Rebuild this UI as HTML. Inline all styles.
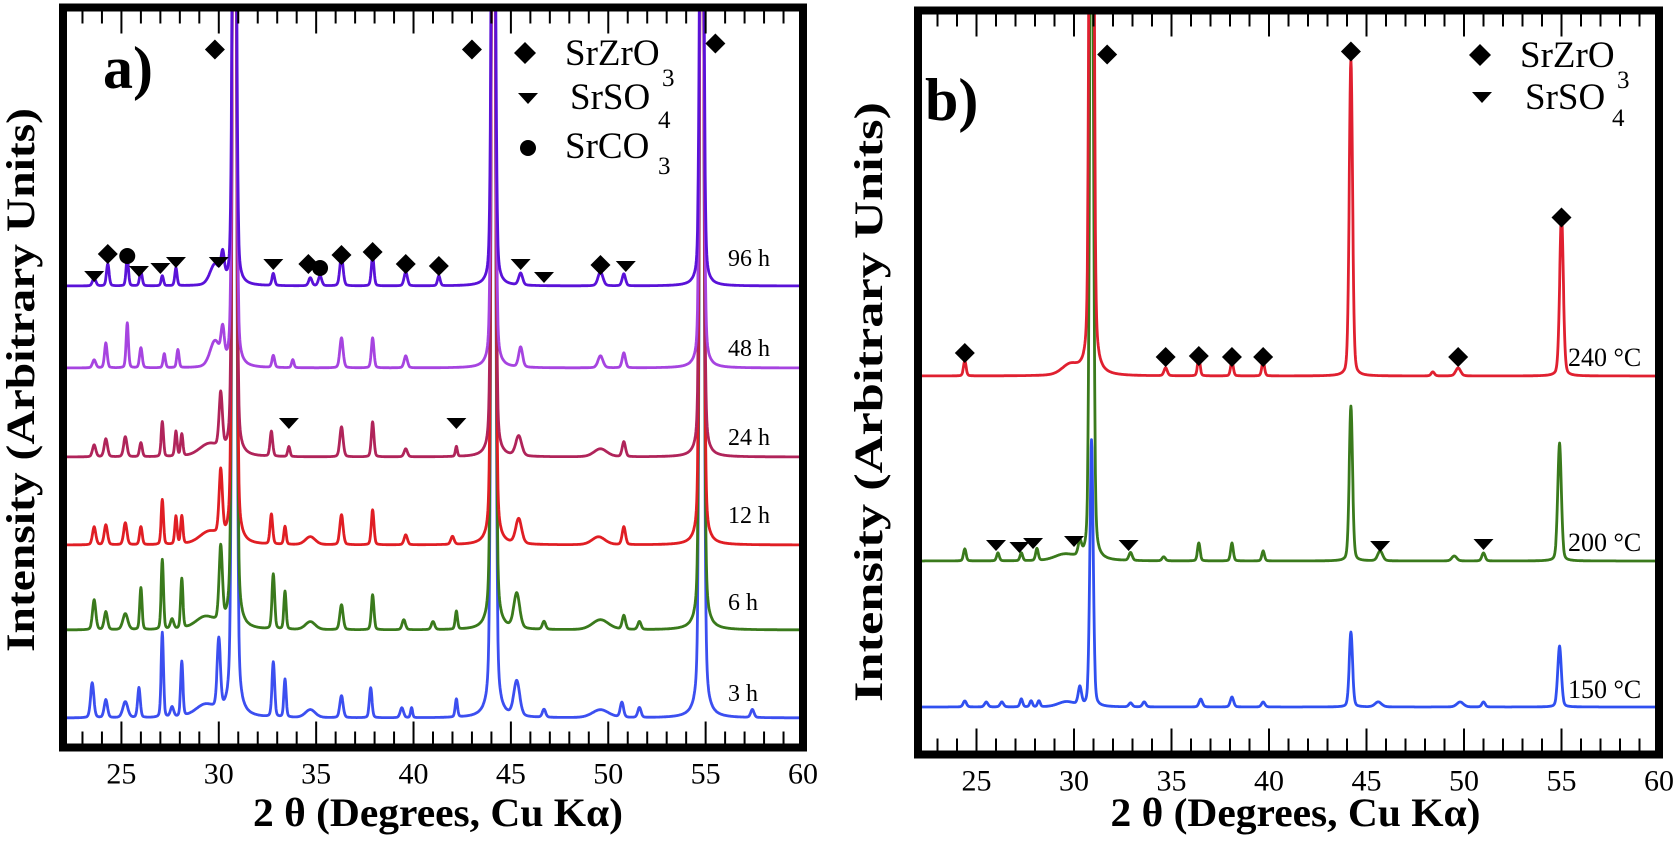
<!DOCTYPE html>
<html><head><meta charset="utf-8">
<style>
html,body{margin:0;padding:0;background:#fff;}
svg{display:block;font-family:"Liberation Serif","DejaVu Serif",serif;}
</style></head>
<body>
<svg id="fig" width="1675" height="841" viewBox="0 0 1675 841" xmlns="http://www.w3.org/2000/svg">
  <g id="panelA"></g>
  <g id="panelB"></g>
</svg>
<script>
// ---------- Data: panel a (time series) ----------
const seriesA = ["3 h","6 h","12 h","24 h","48 h","96 h"];
const offsetsA = [26,114,199,287,376,458];
const colorsA = ["#3c4ff0","#3a7a1c","#e01e24","#b0245a","#a644e0","#5a12d8"];
// peaks: [position(deg), height, halfwidth]
const peaks3h = [[23.5,35,.1],[24.2,18,.1],[25.2,16,.15],[25.9,30,.08],[27.1,85,.07],[27.6,10,.1],[28.1,55,.07],[29.3,12,.6],[30.0,70,.1],[30.8,1600,.1],[32.8,55,.08],[33.4,38,.07],[34.7,8,.3],[36.3,22,.1],[37.8,30,.08],[39.4,10,.1],[39.9,10,.06],[42.2,18,.07],[44.1,1500,.1],[45.3,35,.18],[46.7,8,.1],[49.6,8,.5],[50.7,15,.1],[51.6,10,.1],[54.8,1500,.1],[57.4,8,.1]];
const peaks6h = [[23.6,30,.1],[24.2,18,.1],[25.2,16,.15],[26.0,42,.07],[27.1,70,.07],[27.6,10,.1],[28.1,50,.07],[29.3,12,.6],[30.1,75,.1],[30.8,1400,.1],[32.8,55,.08],[33.4,38,.07],[34.7,8,.3],[36.3,25,.1],[37.9,35,.08],[39.5,10,.1],[41.0,8,.1],[42.2,18,.07],[44.1,1300,.1],[45.3,35,.18],[46.7,8,.1],[49.6,10,.5],[50.8,14,.1],[51.6,8,.1],[54.8,1300,.1]];
const peaks12h = [[23.6,18,.1],[24.2,20,.1],[25.2,22,.1],[26.0,18,.08],[27.1,45,.07],[27.8,28,.07],[28.1,28,.07],[29.5,12,.6],[30.1,65,.1],[30.8,1200,.1],[32.7,30,.08],[33.4,18,.07],[34.7,8,.3],[36.3,30,.1],[37.9,35,.08],[39.6,10,.1],[42.0,8,.1],[44.1,1100,.1],[45.4,25,.18],[49.5,8,.4],[50.8,18,.1],[54.8,1100,.1]];
const peaks24h = [[23.6,12,.1],[24.2,18,.1],[25.2,20,.1],[26.0,14,.08],[27.1,35,.07],[27.8,25,.07],[28.1,22,.07],[29.5,12,.6],[30.1,55,.1],[30.8,1000,.1],[32.7,25,.08],[33.6,10,.07],[36.3,30,.1],[37.9,35,.08],[39.6,8,.1],[42.2,10,.06],[44.1,950,.1],[45.4,20,.18],[49.6,8,.4],[50.8,15,.1],[54.8,950,.1]];
const peaks48h = [[23.6,8,.1],[24.2,25,.08],[25.3,45,.07],[26.0,20,.08],[27.2,14,.07],[27.9,18,.07],[29.8,25,.3],[30.2,30,.1],[30.8,900,.1],[32.8,12,.08],[33.8,8,.07],[36.3,30,.1],[37.9,30,.08],[39.6,12,.1],[44.1,850,.1],[45.5,20,.12],[49.6,12,.15],[50.8,15,.1],[54.8,850,.1]];
const peaks96h = [[23.6,8,.1],[24.3,22,.08],[25.3,30,.07],[26.0,14,.08],[27.1,10,.07],[27.8,18,.07],[29.8,20,.3],[30.2,25,.1],[30.8,800,.1],[32.8,12,.08],[34.7,8,.1],[35.2,10,.1],[36.3,30,.1],[37.9,30,.08],[39.6,14,.1],[41.3,10,.08],[44.1,800,.1],[45.5,12,.12],[49.6,14,.15],[50.8,12,.1],[54.8,800,.1]];
const peaksA = [peaks3h,peaks6h,peaks12h,peaks24h,peaks48h,peaks96h];
const labelYA = [693,602,515,437,348,258];
const diamondsA = [[24.3,32],[34.6,22],[36.3,31],[37.9,34],[39.6,22],[41.3,20],[49.6,21]];
const trianglesA = [[23.6,10],[25.9,15],[27.0,18],[27.8,24],[30.0,24],[32.8,22],[45.5,22],[46.7,9],[50.9,20]];
const circlesA = [[25.3,30],[35.2,18]];
const trianglesA24 = [[33.6,34],[42.2,34]];
const topDiamondsA = [[29.8,698],[43.0,698],[55.5,704]];

// ---------- Data: panel b (temperature series) ----------
const seriesB = ["150 °C","200 °C","240 °C"];
const offsetsB = [44,190,375];
const colorsB = ["#3050f0","#3a7a1c","#e02030"];
const peaks150 = [[24.4,6,.1],[25.5,5,.1],[26.3,5,.1],[27.3,8,.08],[27.8,6,.08],[28.2,6,.08],[29.6,5,.5],[30.3,18,.1],[30.9,267,.1],[32.9,4,.1],[33.6,5,.1],[36.5,8,.1],[38.1,10,.1],[39.7,5,.1],[44.2,75,.1],[45.6,5,.2],[49.8,5,.2],[51.0,5,.1],[54.9,61,.11]];
const peaks200 = [[24.4,12,.08],[26.1,8,.08],[27.3,8,.08],[28.1,12,.08],[29.5,6,.6],[30.3,14,.1],[30.9,900,.1],[32.9,8,.1],[34.6,4,.1],[36.4,18,.08],[38.1,18,.08],[39.7,10,.08],[44.2,155,.1],[45.7,10,.15],[49.5,5,.15],[51.0,8,.1],[54.9,118,.11]];
const peaks240 = [[24.4,15,.08],[29.8,10,.5],[30.9,1500,.1],[34.7,8,.1],[36.4,18,.08],[38.1,15,.08],[39.7,15,.08],[44.2,317,.1],[48.4,4,.1],[49.7,8,.15],[55.0,162,.11]];
const peaksB = [peaks150,peaks200,peaks240];
const labelYB = [690,543,358];
const diamondsB = [[24.4,23],[34.7,19],[36.4,20],[38.1,19],[39.7,19],[49.7,19]];
const topDiamondsB = [[31.7,700],[44.2,703],[55.0,537]];
const trianglesB = [[26.0,16],[27.2,14],[27.9,18],[30.0,20],[32.8,16],[45.7,15],[51.0,17]];

const xTicks = [25,30,35,40,45,50,55,60];
const NS = "http://www.w3.org/2000/svg";
function mk(tag, attrs, parent){const e=document.createElementNS(NS,tag);for(const k in attrs)e.setAttribute(k,attrs[k]);if(parent)parent.appendChild(e);return e;}

function makePanel(g, P){
  const xs = d => P.x0 + (d-22)/(60-22)*(P.x1-P.x0);
  const ys = v => P.yb - v;
  const clipId = "clip"+P.id;
  const defs = mk("defs",{},g);
  const cp = mk("clipPath",{id:clipId},defs);
  mk("rect",{x:P.x0,y:P.y0,width:P.x1-P.x0,height:P.yb-P.y0},cp);
  const plot = mk("g",{"clip-path":"url(#"+clipId+")"},g);
  
  
  P.peaks.forEach((pk,i)=>{
    let d="";
    for(let t=22; t<=60.001; t+=0.02){
      let v=P.offsets[i];
      for(const p of pk){const z=(t-p[0])/p[2]; v+=p[1]*(0.75*Math.exp(-z*z*0.693)+0.25/(1+z*z));}
      d += (d?"L":"M")+xs(t).toFixed(1)+","+ys(v).toFixed(1);
    }
    const path = mk("path",{d:d,fill:"none",stroke:P.colors[i],"stroke-width":2.8,"stroke-linejoin":"round"},plot);
    
    
    const lab = mk("text",{x:P.labX,y:P.labY[i]+8,"font-size":P.labFs},g);
    lab.textContent=P.series[i];
    
    
  });
  const diamond=(x,y,s)=>{const e=mk("path",{d:`M${x},${y-s}L${x+s},${y}L${x},${y+s}L${x-s},${y}Z`,fill:"#000"},g);};
  const tri=(x,y)=>{const e=mk("path",{d:`M${x-10},${y-5}L${x+10},${y-5}L${x},${y+6}Z`,fill:"#000"},g);};
  const circ=(x,y)=>{const e=mk("circle",{cx:x,cy:y,r:8,fill:"#000"},g);};
  const base=P.offsets[P.mBase];
  (P.diamonds||[]).forEach(m=>diamond(xs(m[0]),ys(base+m[1]),10));
  (P.topDiamonds||[]).forEach(m=>diamond(xs(m[0]),ys(m[1]),10));
  (P.triangles||[]).forEach(m=>tri(xs(m[0]),ys(P.offsets[P.tBase]+m[1])));
  (P.circles||[]).forEach(m=>circ(xs(m[0]),ys(base+m[1])));
  (P.tri24||[]).forEach(m=>tri(xs(m[0]),ys(P.offsets[3]+m[1])));
  const fr = mk("rect",{x:P.x0,y:P.y0,width:P.x1-P.x0,height:P.yb-P.y0,fill:"none",stroke:"#000","stroke-width":8},g);
  
  
  for(let t=23;t<60;t++){
    const maj=(t%5===0), L=maj?22:12, x=xs(t);
    mk("line",{x1:x,y1:P.yb-4,x2:x,y2:P.yb-4-L,stroke:"#000","stroke-width":2},g);
    mk("line",{x1:x,y1:P.y0+4,x2:x,y2:P.y0+4+L,stroke:"#000","stroke-width":2},g);
  }
  xTicks.forEach(t=>{
    const e=mk("text",{x:xs(t),y:P.yb+36,"font-size":30,"text-anchor":"middle"},g);
    e.textContent=t;
    
    
  });
  const xt=mk("text",{x:(P.x0+P.x1)/2+P.xtDx,y:826,"font-size":40,"font-weight":"bold","text-anchor":"middle",textLength:370,lengthAdjust:"spacingAndGlyphs"},g);
  xt.textContent="2 θ (Degrees, Cu Kα)";
  
  
  const yt=mk("text",{x:0,y:0,"font-size":40,"font-weight":"bold","text-anchor":"middle",textLength:P.ytLen,lengthAdjust:"spacingAndGlyphs",transform:`translate(${P.ytX},${P.ytY}) rotate(-90)`},g);
  yt.textContent="Intensity (Arbitrary Units)";
  
  
  const pl=mk("text",{x:P.plX,y:P.plY,"font-size":60,"font-weight":"bold"},g);
  pl.textContent=P.plText;
  
  
  P.legend.forEach(L=>{
    const lg=mk("g",{},g);
    
    
    if(L.m==="d") diamond(L.mx,L.my,11);
    if(L.m==="t") tri(L.mx,L.my);
    if(L.m==="c") circ(L.mx,L.my);
    const t=mk("text",{x:L.tx,y:L.ty,"font-size":37},lg); t.textContent=L.txt;
    const s=mk("text",{x:L.sx,y:L.sy,"font-size":25},lg); s.textContent=L.sub;
  });
}

makePanel(document.getElementById("panelA"),{
  id:"A",x0:63,x1:803,y0:7.5,yb:747.5,peaks:peaksA,offsets:offsetsA.map(o=>o+3.5),colors:colorsA,series:seriesA,
  labX:728,labY:labelYA,labFs:24,mBase:5,tBase:5,diamonds:diamondsA,topDiamonds:topDiamondsA,triangles:trianglesA,circles:circlesA,tri24:trianglesA24,
  xtDx:5,ytX:34,ytY:380,ytLen:544,plX:103,plY:88,plText:"a)",
  legend:[{m:"d",mx:525,my:53,tx:565,ty:65,txt:"SrZrO",sx:662,sy:86,sub:"3"},
          {m:"t",mx:528,my:98,tx:570,ty:109,txt:"SrSO",sx:658,sy:128,sub:"4"},
          {m:"c",mx:528,my:148,tx:565,ty:158,txt:"SrCO",sx:658,sy:174,sub:"3"}]
});
makePanel(document.getElementById("panelB"),{
  id:"B",x0:918,x1:1659,y0:10.5,yb:754.5,peaks:peaksB,offsets:offsetsB.map(o=>o+3.5),colors:colorsB,series:seriesB,
  labX:1568,labY:labelYB,labFs:26,mBase:2,tBase:1,diamonds:diamondsB,topDiamonds:topDiamondsB,triangles:trianglesB,
  xtDx:7,ytX:882,ytY:402,ytLen:600,plX:925,plY:120,plText:"b)",
  legend:[{m:"d",mx:1480,my:55,tx:1520,ty:67,txt:"SrZrO",sx:1617,sy:88,sub:"3"},
          {m:"t",mx:1482,my:97,tx:1525,ty:109,txt:"SrSO",sx:1612,sy:126,sub:"4"}]
});
</script>
</body></html>
